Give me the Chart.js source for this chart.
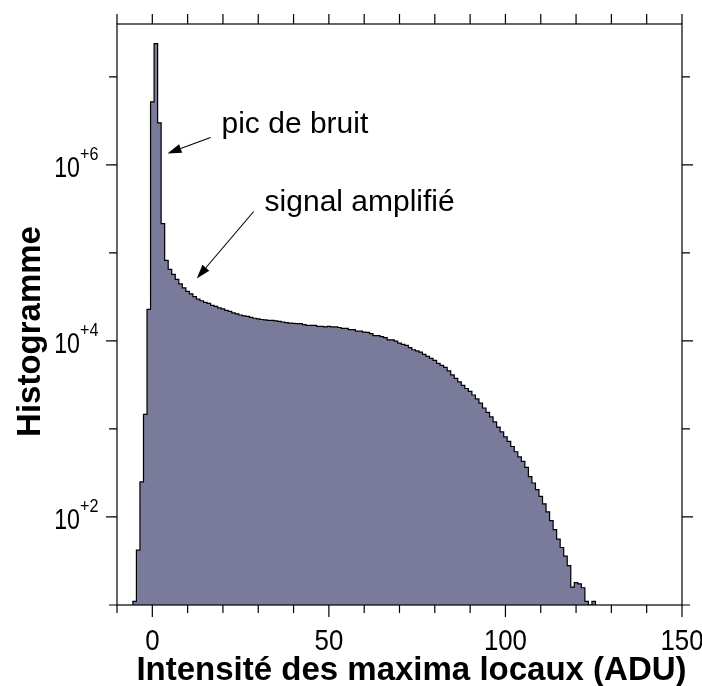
<!DOCTYPE html>
<html>
<head>
<meta charset="utf-8">
<script src="https://cdn.jsdelivr.net/npm/chart.js@4.4.1/dist/chart.umd.min.js"></script>
<style>
  html, body { margin: 0; padding: 0; background: #fff; }
</style>
</head>
<body>
<canvas id="chart" width="702" height="686"></canvas>
<script>
// histogram of local maxima, one bin per ADU, first bin centred on -5
const binFirst = -5;
const binWidth = 1;
const counts = [
  11, 42, 250, 1460, 22800,                                   // -5 .. -1
  5200000, 23800000, 3000000, 215000, 82000,                  // 0 .. 4
  64900, 57000, 50000, 44400, 40000, 36500, 34200, 31800, 29800, 28600,   // 5 .. 14
  27400, 26700, 25300, 24700, 23700, 23100, 22200, 21600, 20800, 20300,   // 15 .. 24
  19700, 19200, 19000, 18500, 18100, 17800, 17500, 17300, 17100, 17100,   // 25 .. 34
  16900, 16700, 16400, 16100, 15900, 15800, 15700, 15700, 15300, 15000,   // 35 .. 44
  15000, 15000, 14600, 14600, 14400, 14600, 14400, 14400, 14200, 13900,   // 45 .. 54
  13900, 13400, 13400, 12900, 12900, 12600, 12500, 12100, 11500, 11500,   // 55 .. 64
  11200, 10900, 10300, 10300, 9950, 9440, 9120, 8890, 8370, 7940,         // 65 .. 74
  7700, 7460, 7030, 6670, 6330, 6000, 5550, 5270, 5000, 4560,             // 75 .. 84
  4110, 3750, 3420, 3120, 2880, 2670, 2430, 2190, 1960, 1730,             // 85 .. 94
  1540, 1370, 1200, 1050, 925, 811, 721, 632, 551, 481,                   // 95 .. 104
  428, 365, 288, 243, 205, 171, 141, 114, 91, 72,                         // 105 .. 114
  56, 45, 36, 28, 16, 18, 17.4, 15.7, 11, 10,                             // 115 .. 124
  11                                                                      // 125
];

const xMin = -10, xMax = 150;
const yMin = 10, yMax = Math.pow(10, 7.6);
const xTicks = [-10, 0, 10, 20, 30, 40, 50, 60, 70, 80, 90, 100, 110, 120, 130, 140, 150];
const xLabels = [0, 50, 100, 150];
const yDecades = [1, 2, 3, 4, 5, 6, 7];
const yLabelled = [2, 4, 6];

const xTitle = 'Intensité des maxima locaux (ADU)';
const yTitle = 'Histogramme';

// annotations, in data units: text anchor and arrow tail -> tip
const notes = [
  { text: 'pic de bruit', tx: 19.6, ty: Math.pow(10, 6.36), x0: 16.5, y0: Math.pow(10, 6.31), x1: 4.3, y1: Math.pow(10, 6.13) },
  { text: 'signal amplifié', tx: 31.8, ty: Math.pow(10, 5.48), x0: 28.7, y0: Math.pow(10, 5.47), x1: 12.6, y1: Math.pow(10, 4.71) }
];

// step outline: one point per bin left edge, closed down to the axis at both ends
const points = [];
const firstEdge = binFirst - binWidth / 2;
points.push({ x: firstEdge, y: yMin });
counts.forEach((c, i) => points.push({ x: firstEdge + i * binWidth, y: c }));
const lastEdge = firstEdge + counts.length * binWidth;
points.push({ x: lastEdge, y: counts[counts.length - 1] });
points.push({ x: lastEdge, y: yMin });

function squeezeText(ctx, str, x, y, squeeze) {
  const w = ctx.measureText(str).width;
  ctx.fillText(str, x, y, w * squeeze);
}

const frame = {
  id: 'frame',
  afterDatasetsDraw(chart) {
    const { ctx, chartArea: a, scales: { x, y } } = chart;
    ctx.save();
    ctx.strokeStyle = '#000';
    ctx.fillStyle = '#000';
    ctx.lineWidth = 1.2;
    ctx.strokeRect(a.left, a.top, a.right - a.left, a.bottom - a.top);

    ctx.beginPath();
    xTicks.forEach(v => {
      const px = x.getPixelForValue(v);
      const big = xLabels.includes(v);
      ctx.moveTo(px, a.bottom);
      ctx.lineTo(px, a.bottom + (big ? 12 : 8));
      ctx.moveTo(px, a.top);
      ctx.lineTo(px, a.top - 10);
    });
    yDecades.forEach(d => {
      const py = y.getPixelForValue(Math.pow(10, d));
      const len = yLabelled.includes(d) ? 11 : 8;
      ctx.moveTo(a.left, py);
      ctx.lineTo(a.left - len, py);
      ctx.moveTo(a.right, py);
      ctx.lineTo(a.right + len, py);
    });
    ctx.stroke();

    // x tick labels
    ctx.font = '30px "Liberation Sans", Arial, sans-serif';
    ctx.textAlign = 'center';
    ctx.textBaseline = 'alphabetic';
    xLabels.forEach(v => {
      squeezeText(ctx, String(v), x.getPixelForValue(v), a.bottom + 45, 0.86);
    });

    // y tick labels: 10 with a raised exponent
    yLabelled.forEach(d => {
      const py = y.getPixelForValue(Math.pow(10, d));
      ctx.font = '29px "Liberation Sans", Arial, sans-serif';
      ctx.textAlign = 'right';
      squeezeText(ctx, '10', a.left - 37, py + 12, 0.8);
      ctx.font = '19px "Liberation Sans", Arial, sans-serif';
      ctx.textAlign = 'left';
      squeezeText(ctx, '+' + d, a.left - 37, py - 5, 0.85);
    });

    // axis titles
    ctx.font = 'bold 33px "Liberation Sans", Arial, sans-serif';
    ctx.textAlign = 'center';
    ctx.fillText(xTitle, (a.left + a.right) / 2 + 12, a.bottom + 75);
    ctx.save();
    ctx.translate(40, (a.top + a.bottom) / 2 + 17);
    ctx.rotate(-Math.PI / 2);
    ctx.fillText(yTitle, 0, 0);
    ctx.restore();

    // annotations with arrows
    ctx.font = '30px "Liberation Sans", Arial, sans-serif';
    ctx.textAlign = 'left';
    ctx.lineWidth = 1.1;
    notes.forEach(n => {
      ctx.fillText(n.text, x.getPixelForValue(n.tx), y.getPixelForValue(n.ty));
      const x0 = x.getPixelForValue(n.x0), y0 = y.getPixelForValue(n.y0);
      const x1 = x.getPixelForValue(n.x1), y1 = y.getPixelForValue(n.y1);
      const ang = Math.atan2(y1 - y0, x1 - x0);
      const L = 14, W = 4.5;
      const bx = x1 - L * Math.cos(ang), by = y1 - L * Math.sin(ang);
      ctx.beginPath();
      ctx.moveTo(x0, y0);
      ctx.lineTo(bx, by);
      ctx.stroke();
      ctx.beginPath();
      ctx.moveTo(x1, y1);
      ctx.lineTo(bx + W * Math.sin(ang), by - W * Math.cos(ang));
      ctx.lineTo(bx - W * Math.sin(ang), by + W * Math.cos(ang));
      ctx.closePath();
      ctx.fill();
    });
    ctx.restore();
  }
};

new Chart(document.getElementById('chart'), {
  type: 'line',
  data: {
    datasets: [{
      data: points,
      stepped: true,
      fill: 'start',
      backgroundColor: '#7a7a9b',
      borderColor: '#000',
      borderWidth: 1.2,
      pointRadius: 0,
      tension: 0
    }]
  },
  options: {
    responsive: false,
    animation: false,
    devicePixelRatio: 1,
    layout: { padding: { left: 117, right: 20, top: 24, bottom: 81 } },
    plugins: { legend: { display: false }, tooltip: { enabled: false } },
    scales: {
      x: { type: 'linear', min: xMin, max: xMax, display: false },
      y: { type: 'logarithmic', min: yMin, max: yMax, display: false }
    }
  },
  plugins: [frame]
});
</script>
</body>
</html>
